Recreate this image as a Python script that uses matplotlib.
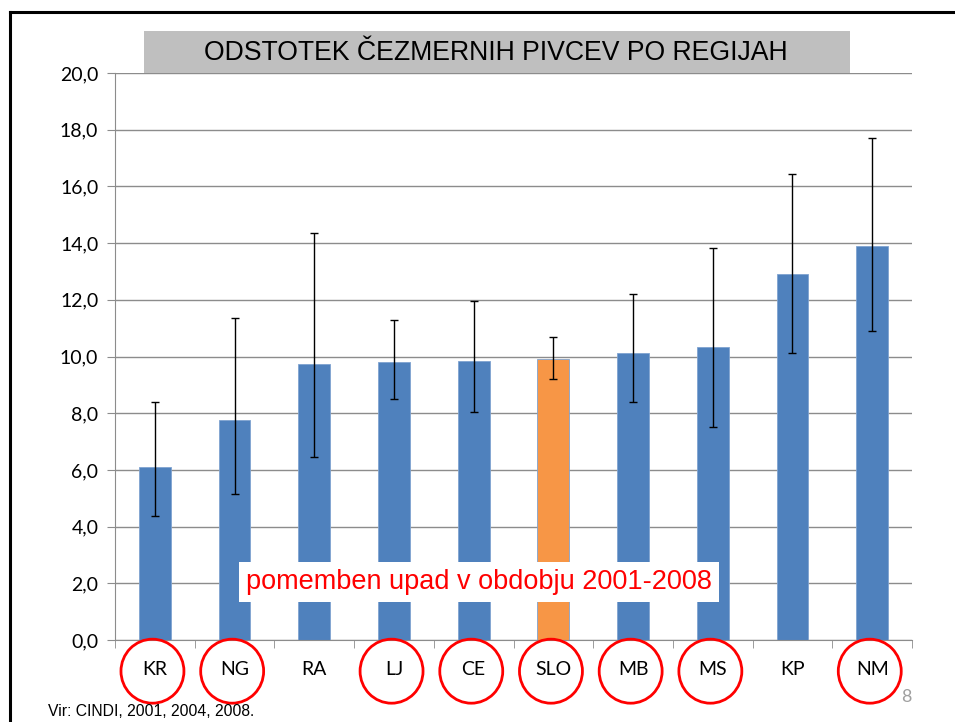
import matplotlib
matplotlib.use("Agg")
import matplotlib.pyplot as plt
from matplotlib.patches import Ellipse, Rectangle
import numpy as np

categories = ["KR", "NG", "RA", "LJ", "CE", "SLO", "MB", "MS", "KP", "NM"]
values = [6.1, 7.75, 9.75, 9.8, 9.85, 9.9, 10.12, 10.32, 12.91, 13.9]
err_low = [4.37, 5.15, 6.44, 8.51, 8.04, 9.2, 8.4, 7.52, 10.11, 10.9]
err_high = [8.38, 11.36, 14.36, 11.3, 11.95, 10.69, 12.2, 13.84, 16.43, 17.7]
circled = ["KR", "NG", "LJ", "CE", "SLO", "MB", "MS", "NM"]
yticks = [0, 2, 4, 6, 8, 10, 12, 14, 16, 18, 20]
title = "ODSTOTEK ČEZMERNIH PIVCEV PO REGIJAH"
note = "pomemben upad v obdobju 2001-2008"
source = "Vir: CINDI, 2001, 2004, 2008."

plt.rcParams['font.family'] = ['Lato', 'DejaVu Sans']

fig = plt.figure(figsize=(9.55, 7.22), dpi=100)
W, H = 955, 722
ax = fig.add_axes([115 / W, (H - 640) / H, (912 - 115) / W, (640 - 73) / H])

x = np.arange(len(categories))
colors = ["#F79646" if c == "SLO" else "#4F81BD" for c in categories]
vals = np.array(values)
yerr = np.vstack([vals - np.array(err_low), np.array(err_high) - vals])
ax.bar(x, vals, width=0.4, color=colors, edgecolor="#7FA3D0", linewidth=0.6, zorder=2)
ax.errorbar(x, vals, yerr=yerr, fmt="none", ecolor="black", elinewidth=1.0,
            capsize=3, capthick=1.0, zorder=3)

ax.set_xlim(-0.5, len(categories) - 0.5)
ax.set_ylim(0, 20)
ax.set_yticks(yticks)
ax.set_yticklabels([f"{v:.1f}".replace(".", ",") for v in yticks], fontsize=14)
ax.yaxis.grid(True, color="#8C8C8C", linewidth=1.0, zorder=0)
ax.set_axisbelow(True)
ax.set_xticks(x)
ax.set_xticklabels(categories, fontsize=14)
ax.set_xticks(np.arange(len(categories) + 1) - 0.5, minor=True)
ax.tick_params(axis="x", which="major", length=0, pad=15)
ax.tick_params(axis="x", which="minor", length=6, color="#8C8C8C")
ax.tick_params(axis="y", length=6, color="#8C8C8C", pad=6)
for s in ["top", "right"]:
    ax.spines[s].set_visible(False)
for s in ["left", "bottom"]:
    ax.spines[s].set_color("#8C8C8C")

# circles around labels
for i, c in enumerate(categories):
    if c in circled:
        e = Ellipse((i - 0.03, -0.055), width=0.79, height=64 / 567,
                    transform=ax.get_xaxis_transform(), fill=False,
                    edgecolor="#FF0000", linewidth=2.0, clip_on=False, zorder=5)
        ax.add_patch(e)

# title box
fig.patches.append(Rectangle((144 / W, (H - 73) / H), (850 - 144) / W, 42 / H,
                             transform=fig.transFigure, facecolor="#BFBFBF",
                             edgecolor="none", zorder=1))
fig.text(496 / W, (H - 53) / H, title, ha="center", va="center", fontsize=19.2,
         family=["Liberation Sans", "DejaVu Sans"], zorder=3)

# note
fig.text(479 / W, (H - 582) / H, note, ha="center", va="center", fontsize=19.5,
         color="#FF0000", family=["Liberation Sans", "DejaVu Sans"],
         bbox=dict(facecolor="white", edgecolor="none", pad=5), zorder=6)

# slide frame
fig.add_artist(plt.Line2D([10 / W, 1], [(H - 12) / H, (H - 12) / H], color="black",
                          linewidth=2.2, transform=fig.transFigure))
fig.add_artist(plt.Line2D([10 / W, 10 / W], [0, (H - 12) / H], color="black",
                          linewidth=2.2, transform=fig.transFigure))

fig.text(48 / W, (H - 712) / H, source, ha="left", va="center", fontsize=11.3,
         family=["Liberation Sans", "DejaVu Sans"])
fig.text(906 / W, (H - 697) / H, "8", ha="center", va="center", fontsize=13,
         color="#A0A0A0")

fig.savefig("out.png", dpi=100)
